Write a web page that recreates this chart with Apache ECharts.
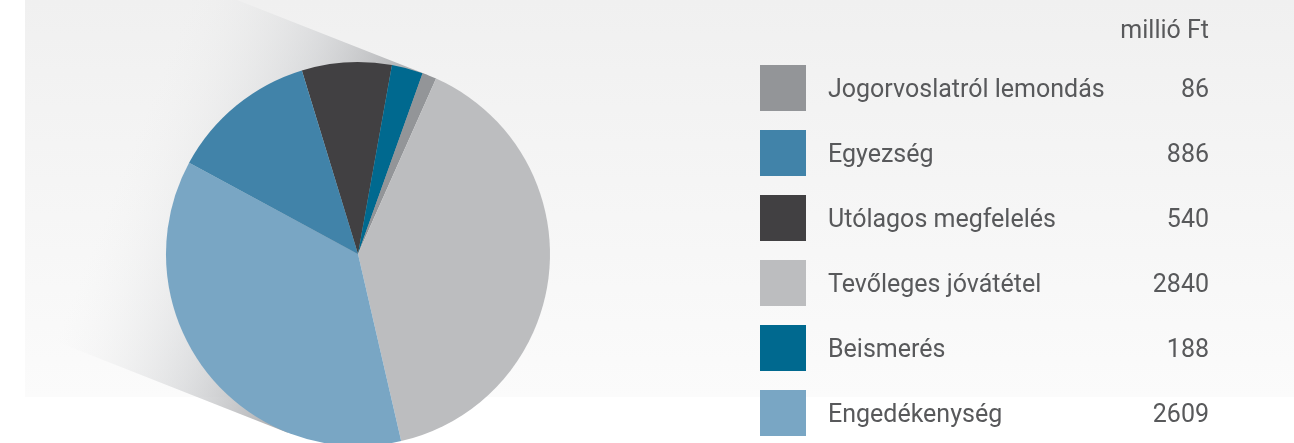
<!DOCTYPE html>
<html>
<head>
<meta charset="utf-8">
<script src="https://cdn.jsdelivr.net/npm/echarts@6/dist/echarts.min.js"></script>
<style>
  html, body { margin: 0; padding: 0; background: #fff; }
  #chart { width: 1294px; height: 443px; }
</style>
</head>
<body>
<div id="chart"></div>
<script>
  // legend order (as listed on the right)
  const names = ['Jogorvoslatról lemondás', 'Egyezség', 'Utólagos megfelelés', 'Tevőleges jóvátétel', 'Beismerés', 'Engedékenység']
  const values = [86, 886, 540, 2840, 188, 2609]
  const colors = ['#939598', '#4183a9', '#414042', '#bcbdbf', '#00698f', '#79a6c4']
  // order of the slices, clockwise from the start angle
  const sliceOrder = ['Utólagos megfelelés', 'Beismerés', 'Jogorvoslatról lemondás', 'Tevőleges jóvátétel', 'Engedékenység', 'Egyezség']
  const unit = 'millió Ft'

  const cx = 358, cy = 254, r = 192

  // shadow band behind the pie
  function shadow() {
    const a = 21.5 * Math.PI / 180
    const d = [-Math.cos(a), -Math.sin(a)]
    const n = [Math.sin(a), -Math.cos(a)]
    const L = 700
    const t1 = [cx + r * n[0], cy + r * n[1]]
    const t2 = [cx - r * n[0], cy - r * n[1]]
    return {
      type: 'polygon',
      z: 1,
      silent: true,
      shape: {
        points: [t1, [t1[0] + L * d[0], t1[1] + L * d[1]], [t2[0] + L * d[0], t2[1] + L * d[1]], t2]
      },
      style: {
        fill: {
          type: 'linear',
          global: true,
          x: cx, y: cy,
          x2: cx + 250 * d[0], y2: cy + 250 * d[1],
          colorStops: [
            { offset: 0, color: 'rgba(150,151,154,0.85)' },
            { offset: 0.45, color: 'rgba(195,197,200,0.5)' },
            { offset: 1, color: 'rgba(235,236,236,0)' }
          ]
        }
      }
    }
  }

  const chart = echarts.init(document.getElementById('chart'))

  chart.setOption({
    animation: false,
    title: {
      text: unit,
      right: 85,
      top: 19,
      padding: 0,
      textStyle: {
        fontFamily: 'Roboto',
        fontSize: 25,
        fontWeight: 'normal',
        color: '#58595b'
      }
    },
    graphic: [
      {
        type: 'rect',
        z: 0,
        silent: true,
        shape: { x: 25, y: 0, width: 1269, height: 397 },
        style: {
          fill: {
            type: 'linear', x: 0, y: 0, x2: 0, y2: 1,
            colorStops: [
              { offset: 0, color: '#f0f0f0' },
              { offset: 1, color: '#fbfbfb' }
            ]
          }
        }
      },
      shadow()
    ],
    legend: {
      orient: 'vertical',
      left: 760,
      top: 65,
      height: 378,
      padding: 0,
      data: names,
      icon: 'rect',
      itemWidth: 46,
      itemHeight: 46,
      itemGap: 19,
      selectedMode: false,
      formatter: function (name) {
        return '{n|' + name + '}{v|' + values[names.indexOf(name)] + '}'
      },
      textStyle: {
        fontFamily: 'Roboto',
        fontSize: 25,
        color: '#58595b',
        rich: {
          n: { width: 300, padding: [6, 0, 0, 17], fontFamily: 'Roboto', fontSize: 25, color: '#58595b' },
          v: { width: 81, align: 'right', padding: [6, 0, 0, 0], fontFamily: 'Roboto', fontSize: 25, color: '#58595b' }
        }
      }
    },
    series: [
      {
        type: 'pie',
        z: 3,
        center: [cx, cy],
        radius: r,
        startAngle: 107,
        clockwise: true,
        silent: true,
        label: { show: false },
        labelLine: { show: false },
        itemStyle: { borderWidth: 0 },
        data: sliceOrder.map(function (nm) {
          const i = names.indexOf(nm)
          return { name: nm, value: values[i], itemStyle: { color: colors[i] } }
        })
      }
    ]
  })
</script>
</body>
</html>
